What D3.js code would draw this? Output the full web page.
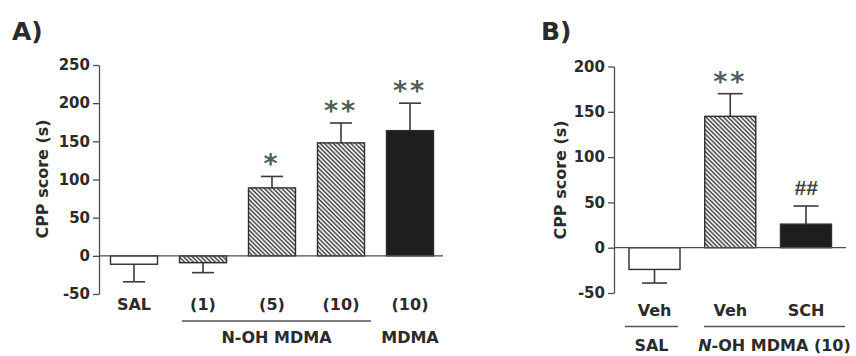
<!DOCTYPE html>
<html>
<head>
<meta charset="utf-8">
<script src="https://cdn.jsdelivr.net/npm/d3@7"></script>
<style>
  body { margin: 0; background: #fff; }
  text { font-family: "DejaVu Sans", sans-serif; font-weight: bold; fill: #2b2b2b; }
</style>
</head>
<body>
<div id="viz"></div>
<script>
// panel A data
var catsA = ["SAL", "(1)", "(5)", "(10)", "(10b)"];
var labelsA = ["SAL", "(1)", "(5)", "(10)", "(10)"];
var valsA = [-11, -9, 89, 148, 164];
var errA = [23, 13, 15, 26, 36];
var fillA = ["white", "hatch", "hatch", "hatch", "black"];
var sigA = ["", "", "*", "**", "**"];
var ticksA = [-50, 0, 50, 100, 150, 200, 250];

// panel B data
var catsB = ["Veh-SAL", "Veh", "SCH"];
var labelsB = ["Veh", "Veh", "SCH"];
var valsB = [-24, 145, 26];
var errB = [15, 25, 20];
var fillB = ["white", "hatch", "black"];
var sigB = ["", "**", "##"];
var ticksB = [-50, 0, 50, 100, 150, 200];

var w = 856, h = 356;
var svg = d3.select("#viz").append("svg").attr("width", w).attr("height", h);

var defs = svg.append("defs");
defs.append("pattern")
    .attr("id", "hatch")
    .attr("width", 3.1).attr("height", 3.1)
    .attr("patternUnits", "userSpaceOnUse")
    .attr("patternTransform", "rotate(-45)")
  .append("line")
    .attr("x1", 1).attr("y1", 0).attr("x2", 1).attr("y2", 3.1)
    .style("stroke", "#3a3a3a").style("stroke-width", 1.45);

var axisCol = "#4a4f4f";
var font = "'DejaVu Sans', sans-serif";

function fillOf(f) {
  if (f == "hatch") return "url(#hatch)";
  if (f == "black") return "#1e1e1e";
  return "white";
}

function panel(opt) {
  var g = svg.append("g");

  var y = d3.scaleLinear().domain(opt.domain).range(opt.yRange);
  var x = d3.scalePoint().domain(opt.cats).range(opt.xRange);

  // title
  g.append("text").attr("x", opt.titleX).attr("y", 40)
    .style("font-size", "25px").text(opt.title);

  // y axis
  var ax = g.append("g")
    .attr("transform", "translate(" + opt.axisX + ",0)")
    .call(d3.axisLeft(y).tickValues(opt.ticks).tickSize(6).tickSizeOuter(0).tickPadding(3)
      .tickFormat(function(d) { return String(d); }));
  ax.select(".domain").style("stroke", axisCol).style("stroke-width", 1.3);
  ax.selectAll(".tick line").style("stroke", axisCol).style("stroke-width", 1.3);
  ax.selectAll(".tick text")
    .style("font-size", "15px")
    .style("font-family", font).style("font-weight", "bold")
    .style("fill", "#2b2b2b");

  g.append("text")
    .attr("transform", "translate(" + opt.labelX + "," + opt.labelY + ") rotate(-90)")
    .attr("text-anchor", "middle")
    .style("font-size", "16px")
    .text("CPP score (s)");

  // error bars
  opt.vals.forEach(function(v, i) {
    var cx = x(opt.cats[i]);
    var tip = v >= 0 ? v + opt.err[i] : v - opt.err[i];
    g.append("line")
      .attr("x1", cx).attr("x2", cx).attr("y1", y(v)).attr("y2", y(tip))
      .style("stroke", "#3a3a3a").style("stroke-width", 1.6);
    g.append("line")
      .attr("x1", cx - opt.cap / 2).attr("x2", cx + opt.cap / 2)
      .attr("y1", y(tip)).attr("y2", y(tip))
      .style("stroke", "#3a3a3a").style("stroke-width", 1.6);
  });

  // bars
  g.selectAll("rect.bar")
    .data(opt.vals)
    .enter().append("rect")
      .attr("class", "bar")
      .attr("x", function(d, i) { return x(opt.cats[i]) - opt.bw / 2; })
      .attr("y", function(d) { return y(Math.max(0, d)); })
      .attr("width", opt.bw)
      .attr("height", function(d) { return Math.abs(y(d) - y(0)); })
      .style("fill", function(d, i) { return fillOf(opt.fills[i]); })
      .style("stroke", "#2e2e2e").style("stroke-width", 1.4);

  // zero line
  g.append("line")
    .attr("x1", opt.axisX).attr("x2", opt.zeroEnd)
    .attr("y1", y(0)).attr("y2", y(0))
    .style("stroke", axisCol).style("stroke-width", 1.3);

  // significance marks
  opt.sig.forEach(function(s, i) {
    if (!s) return;
    var tip = opt.vals[i] + opt.err[i];
    var isHash = s.indexOf("#") >= 0;
    g.append("text")
      .attr("x", x(opt.cats[i]))
      .attr("y", y(tip) - (isHash ? 11 : 3))
      .attr("text-anchor", "middle")
      .style("font-family", isHash ? "'Liberation Sans', Arial, sans-serif" : font)
      .style("font-size", isHash ? "21px" : "27px")
      .style("font-weight", "bold")
      .style("font-style", isHash ? "italic" : "normal")
      .style("letter-spacing", isHash ? "0px" : "3px")
      .style("fill", isHash ? "#3c4342" : "#4f5f5c")
      .text(s);
  });

  // category labels
  opt.labels.forEach(function(l, i) {
    g.append("text")
      .attr("x", x(opt.cats[i]))
      .attr("y", opt.catY)
      .attr("text-anchor", "middle")
      .style("font-size", "16px")
      .text(l);
  });

  return { g: g, x: x, y: y };
}

var A = panel({
  title: "A)", titleX: 12,
  cats: catsA, labels: labelsA, vals: valsA, err: errA, fills: fillA, sig: sigA, ticks: ticksA,
  domain: [-50, 250], yRange: [294, 65], xRange: [134, 410],
  axisX: 99, zeroEnd: 443, bw: 47, cap: 22,
  labelX: 48, labelY: 179, catY: 310
});

var B = panel({
  title: "B)", titleX: 541,
  cats: catsB, labels: labelsB, vals: valsB, err: errB, fills: fillB, sig: sigB, ticks: ticksB,
  domain: [-50, 200], yRange: [293, 66.5], xRange: [654.5, 806],
  axisX: 614, zeroEnd: 846, bw: 51, cap: 25,
  labelX: 566, labelY: 180, catY: 316
});

// group underlines and names
function groupLabel(g, x1, x2, lineY, textY, name, italicN) {
  g.append("line")
    .attr("x1", x1).attr("x2", x2).attr("y1", lineY).attr("y2", lineY)
    .style("stroke", "#555").style("stroke-width", 1.3);
  var t = g.append("text")
    .attr("x", (x1 + x2) / 2).attr("y", textY)
    .attr("text-anchor", "middle")
    .style("font-size", "16px");
  if (italicN) {
    t.append("tspan").style("font-style", "italic").text("N");
    t.append("tspan").text(name.slice(1));
  } else {
    t.text(name);
  }
}

groupLabel(A.g, 182, 371, 321, 343, "N-OH MDMA", false);
A.g.append("text").attr("x", A.x("(10b)")).attr("y", 343)
  .attr("text-anchor", "middle")
  .style("font-size", "16px")
  .text("MDMA");

groupLabel(B.g, 625, 678, 326.5, 351, "SAL", false);
groupLabel(B.g, 704, 845, 326.5, 351, "N-OH MDMA (10)", true);
</script>
</body>
</html>
